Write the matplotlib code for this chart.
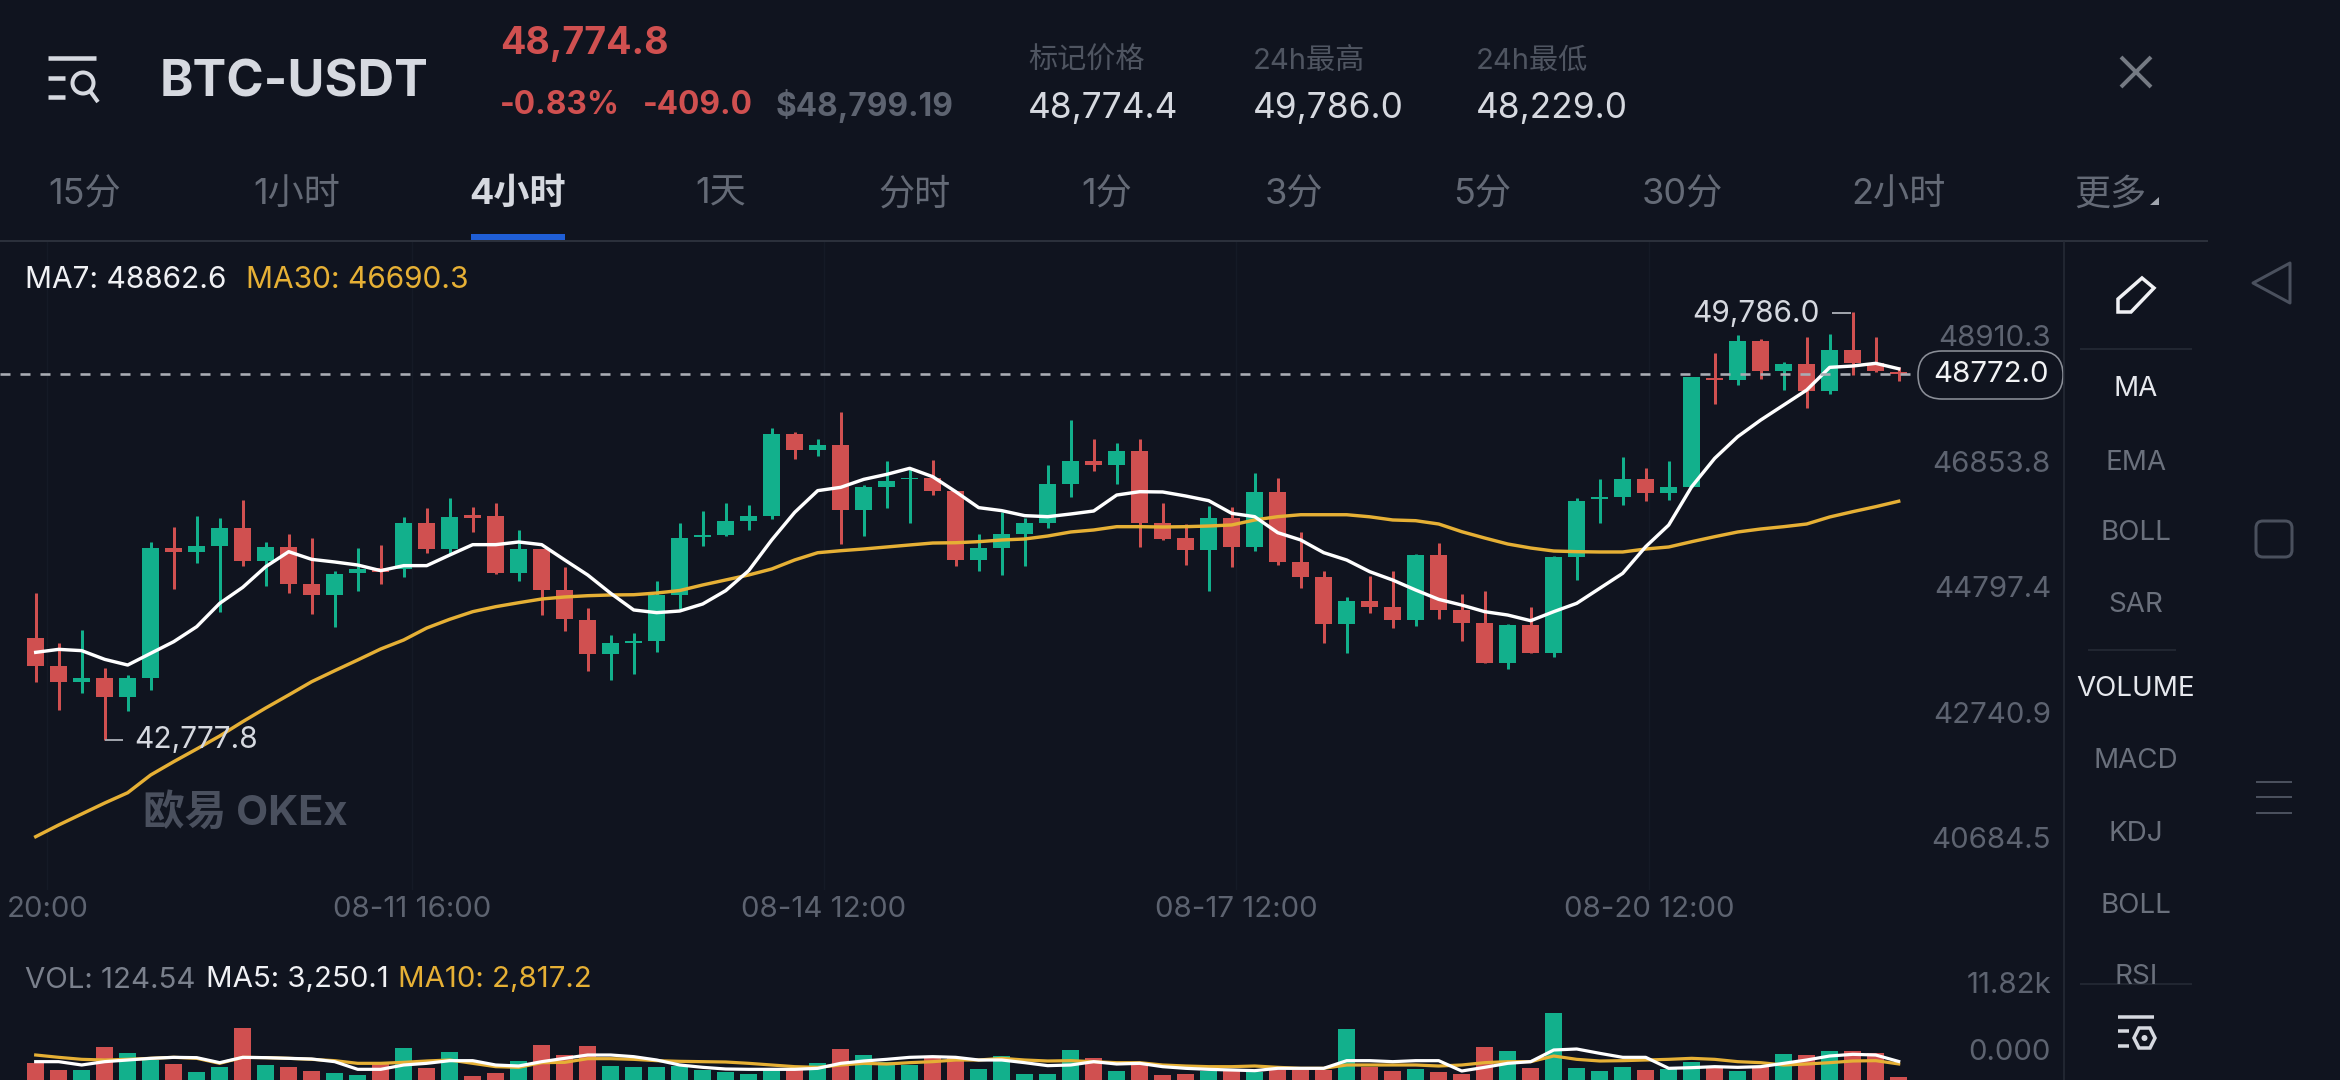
import matplotlib
matplotlib.use("Agg")
import matplotlib.pyplot as plt
from matplotlib.patches import FancyBboxPatch, Polygon, Circle, Rectangle
from matplotlib.transforms import ScaledTranslation
import numpy as np

# ---------- data ----------
open_ = [44442,43988,43726,43786,43485,43797,45918,45863,45961,46246,
         45710,45934,45333,45152,45508,45590,45573,46328,45907,46465,
         46448,45519,45907,45234,44742,44185,44360,44404,45152,46109,
         46131,46366,46448,47787,47530,47612,46546,46918,47049,47066,
         46858,45726,45923,46153,46328,46967,47350,47284,47514,46328,
         46082,45890,46410,45934,46842,45699,45442,44677,45054,44950,
         44742,45808,44906,44688,44032,44661,44196,45781,46721,46765,
         47055,46831,46918,48711,48678,49318,48832,48941,48503,49170,
         48952,48815]
high = [45191,44371,44578,43950,43840,46027,46273,46448,46421,46710,
        46016,46153,46082,45552,45918,45972,46437,46574,46738,46601,
        46656,46218,45907,45617,44934,44497,44535,45382,46328,46536,
        46667,46628,47886,47820,47705,48148,46956,47350,47230,47366,
        46858,46153,46519,46410,47284,48022,47705,47651,47705,46656,
        46317,46612,46590,47148,47077,46191,45551,45114,45464,45552,
        45819,46000,45169,45218,44671,44950,45792,46738,47055,47410,
        47230,47355,48722,49127,49416,49345,48979,49378,49433,49786,
        49389,48886]
low = [43726,43266,43540,42777.8,43250,43594,45245,45672,44879,45628,
       45300,45191,44835,44633,45218,45333,45453,45847,45808,46191,
       45497,45382,44824,44562,43906,43758,43857,44212,44917,45962,
       46120,46218,46399,47377,47432,45989,46120,46574,46328,46792,
       45634,45541,45480,45628,46257,46754,47192,46973,45934,46055,
       45644,45213,45617,45880,45644,45262,44360,44196,44863,44606,
       44644,44754,44398,44032,43933,44196,44141,45398,46328,46628,
       46700,46710,46918,48285,48596,48690,48514,48225,48449,48760,
       48815,48668]
close = [43988,43726,43786,43485,43786,45918,45863,45956,46246,45710,
         45934,45333,45152,45497,45573,45535,46328,45907,46426,46410,
         45508,45907,45234,44759,44185,44360,44398,45152,46082,46137,
         46366,46448,47787,47530,47612,46546,46929,47027,47066,46858,
         45726,45923,46153,46328,46967,47350,47284,47514,46328,46066,
         45890,46410,45934,46842,45699,45442,44677,45054,44950,44742,
         45808,44906,44688,44032,44661,44196,45781,46694,46754,47055,
         46831,46918,48722,48678,49318,48832,48941,48503,49170,48952,
         48832,48772]
ma7 = [44212,44261,44240,44097,44004,44196,44387,44633,45016,45278,
       45617,45863,45737,45694,45644,45552,45634,45634,45808,45978,
       45978,46022,45978,45727,45481,45180,44907,44863,44890,45005,
       45224,45552,46055,46508,46864,46918,47049,47131,47230,47093,
       46847,46585,46536,46454,46437,46481,46530,46792,46847,46842,
       46776,46700,46492,46437,46175,46055,45847,45726,45535,45398,
       45234,45081,44988,44879,44824,44731,44879,45016,45262,45508,
       45945,46300,46929,47394,47749,48022,48268,48514,48886,48908,
       48952,48862.6]
ma30 = [41189,41381,41561,41741,41910,42201,42419,42627,42840,43075,
        43299,43513,43731,43911,44087,44267,44415,44611,44754,44879,
        44961,45026,45087,45120,45141,45153,45157,45185,45226,45317,
        45399,45481,45579,45727,45846,45879,45907,45940,45973,46005,
        46010,46027,46055,46071,46120,46186,46219,46273,46273,46268,
        46273,46284,46301,46383,46437,46469,46469,46469,46435,46383,
        46371,46317,46191,46087,45989,45923,45874,45863,45858,45858,
        45907,45940,46027,46109,46186,46235,46273,46317,46432,46519,
        46601,46690.3]
volume = [2925,1755,1755,5733,4797,3510,2808,1404,2340,9068,
          2633,2340,1638,1170,878,2925,5616,2165,4914,702,
          1287,3335,6143,4388,5967,2457,2340,2340,2516,1755,
          1463,1053,2048,1755,2925,5499,4329,3218,2633,3803,
          4095,1931,4212,1053,1053,5265,3920,1638,2925,878,
          1053,1638,1638,1463,1755,1755,1755,8951,2223,1638,
          1931,1463,1053,5850,5090,2048,11820,2165,1638,2340,
          1755,1872,3218,2340,1638,2340,4563,4388,5090,5090,
          4680,585]
vol_ma5 = [3218,3218,2633,3218,3510,3803,3978,3920,3042,3978,
           3920,3803,3686,3218,1872,1872,2633,2925,3393,3393,
           2633,2457,3218,3803,4388,4388,4095,3510,2633,2223,
           1931,1872,1872,1872,2048,2925,3335,3627,3978,4095,
           3978,3510,3510,3042,2516,2633,3218,2808,2925,2340,
           2048,1872,1755,1638,2048,2048,2048,3393,3393,3218,
           3393,3393,1580,2223,2925,3218,5265,5441,4680,3978,
           3978,2048,2165,2340,2223,2340,2925,3510,4212,4505,
           4388,3250.1]
vol_ma10 = [4388,3978,3627,3510,3627,3803,3978,3803,2925,3978,
            3920,3803,3627,3393,2925,2925,3101,3335,3510,2925,
            2340,2223,3042,3101,3744,3744,3627,3393,3276,3218,
            3159,2925,2633,2340,2223,2633,2925,2808,3042,3218,
            3510,3510,3803,3510,3335,3393,3218,3042,3042,2633,
            2457,2340,2340,2457,2223,2048,2048,2633,2633,2633,
            2633,2457,2633,3042,3218,3218,4212,3627,3335,3393,
            3510,3627,3803,3627,3218,3042,2633,2808,3042,3335,
            3393,2817.2]
price_ticks = [48910.3, 46853.8, 44797.4, 42740.9, 40684.5]
price_tick_labels = ["48910.3", "46853.8", "44797.4", "42740.9", "40684.5"]
vol_ticks = [11820, 0]
vol_tick_labels = ["11.82k", "0.000"]
time_ticks = [0.5, 16.36, 34.27, 52.19, 70.14]
time_tick_labels = ["20:00", "08-11 16:00", "08-14 12:00", "08-17 12:00", "08-20 12:00"]
last_price = 48772.0
tabs = ["15分", "1小时", "4小时", "1天", "分时", "1分", "3分", "5分", "30分", "2小时", "更多"]
side_items = ["MA", "EMA", "BOLL", "SAR", "VOLUME", "MACD", "KDJ", "BOLL"]

# ---------- style ----------
BG = "#10141f"
RED = "#d05050"
GREEN = "#12b08c"
YEL = "#e6b035"
GRAY = "#5d6370"
LIGHT = "#d6d9e0"
LINE = "#272c37"
FONT = ["Inter", "Noto Sans CJK SC", "DejaVu Sans"]
plt.rcParams["font.family"] = FONT
PT = 0.72  # points per pixel at dpi 100
W, H = 2340, 1080
TICK_SIZE = 21.2

fig = plt.figure(figsize=(W / 100, H / 100), dpi=100, facecolor=BG)


def make_axes(top, bottom):
    ax = fig.add_axes([0, 1 - bottom / H, 2064 / W, (bottom - top) / H], facecolor=BG)
    for s in ax.spines.values():
        s.set_visible(False)
    ax.set_xlim(-35.7 / 23, (2064 - 35.7) / 23)
    return ax


x = np.arange(len(close))
open_a, high_a, low_a, close_a = map(np.array, (open_, high, low, close))
colors = [GREEN if c >= o else RED for o, c in zip(open_a, close_a)]

# ---------- price panel ----------
ax = make_axes(241, 890)
PX_PER = 16.4  # price per pixel
ax.set_ylim(last_price - (890 - 374.3) * PX_PER, last_price + (374.3 - 241) * PX_PER)
ax.vlines(x, low_a, high_a, colors=colors, lw=3 * PT, zorder=2)
ax.bar(x, np.abs(close_a - open_a), bottom=np.minimum(open_a, close_a), width=0.72,
       color=colors, zorder=3)
ax.plot(x, ma30, color=YEL, lw=3.4 * PT, zorder=4, solid_joinstyle="round")
ax.plot(x, ma7, color="#ffffff", lw=3.4 * PT, zorder=5, solid_joinstyle="round")
ax.plot([0, 1918 / 2064], [last_price, last_price], transform=ax.get_yaxis_transform(),
        color="#a9adb4", lw=2.6 * PT, dashes=(10 / 2.6, 10 / 2.6), zorder=6)
ax.set_xticks(time_ticks)
ax.set_xticklabels(time_tick_labels)
ax.tick_params(axis="x", length=0, pad=4.5, labelsize=TICK_SIZE, labelcolor=GRAY)
ax.grid(axis="x", color="#151a26", lw=1)
ax.set_axisbelow(True)

ax.yaxis.tick_right()
ax.set_yticks(price_ticks)
ax.set_yticklabels(price_tick_labels)
ax.tick_params(axis="y", length=0, pad=-13 * PT, labelsize=TICK_SIZE, labelcolor=GRAY)
up30 = ScaledTranslation(0, 30 / 100, fig.dpi_scale_trans)
for lab in ax.get_yticklabels():
    lab.set_ha("right")
    lab.set_transform(lab.get_transform() + up30)

# ---------- volume panel ----------
vx = make_axes(950, 1080)
vx.set_ylim(0, 130 * 175.5)
vx.bar(x, volume, width=0.72, color=colors, zorder=2)
vx.plot(x, vol_ma10, color=YEL, lw=3.2 * PT, zorder=3)
vx.plot(x, vol_ma5, color="#ffffff", lw=3.2 * PT, zorder=4)
vx.set_xticks([])
vx.yaxis.tick_right()
vx.set_yticks(vol_ticks)
vx.set_yticklabels(vol_tick_labels)
vx.tick_params(axis="y", length=0, pad=-13 * PT, labelsize=TICK_SIZE, labelcolor=GRAY)
for lab in vx.get_yticklabels():
    lab.set_ha("right")
    lab.set_transform(lab.get_transform() + up30)

# ---------- overlay in pixel coordinates for the app chrome ----------
ui = fig.add_axes([0, 0, 1, 1], facecolor="none", zorder=10)
ui.set_xlim(0, W)
ui.set_ylim(H, 0)
ui.axis("off")


def T(px, py, s, size, color, ha="left", weight="normal", **kw):
    return ui.text(px, py + 3, s, fontsize=size, color=color, ha=ha, va="center",
                   fontweight=weight, family=FONT, **kw)


def L(xs, ys, color, lw=1.0, **kw):
    ui.plot(xs, ys, color=color, lw=lw * PT, solid_capstyle="butt", **kw)


# separators
L([0, 2208], [240.5, 240.5], "#2b303b", 2)
L([2064, 2064], [241, 1080], LINE, 1.5)
L([2080, 2192], [348.7, 348.7], LINE, 1.5)
L([2088, 2176], [650, 650], LINE, 1.5)
L([2080, 2192], [983.5, 983.5], LINE, 1.5)

# header
for yy, x0 in ((57.5, 48), (78, 48), (97, 48)):
    L([x0, 96 if yy < 60 else 65], [yy, yy], LIGHT, 4.5)
ui.add_patch(Circle((83, 83), 10.5, fill=False, ec=LIGHT, lw=4 * PT))
L([90, 98], [91, 102], LIGHT, 4)
T(160, 80, "BTC-USDT", 36.4, LIGHT, weight="bold")
T(500, 41, "48,774.8", 27, RED, weight="bold")
T(500, 103, "-0.83%", 22.8, RED, weight="bold")
T(643, 103, "-409.0", 22.8, RED, weight="bold")
T(776, 103, "$48,799.19", 22.8, GRAY, weight="bold")
for px, lab_, val in ((1028, "标记价格", "48,774.4"), (1253, "24h最高", "49,786.0"), (1476, "24h最低", "48,229.0")):
    T(px, 58, lab_, 21, "#4f5561")
    T(px, 105, val, 25.4, LIGHT)
L([2121, 2151], [57, 87], "#757a83", 4)
L([2121, 2151], [87, 57], "#757a83", 4)

# tabs
tab_x = [85, 297, 518, 721, 915, 1107, 1294, 1482, 1682, 1898, 2110]
for i, (px, s) in enumerate(zip(tab_x, tabs)):
    T(px, 191.5, s, 26, LIGHT if i == 2 else "#646a76", ha="center", weight="bold" if i == 2 else "normal")
ui.add_patch(Polygon([[2150, 205], [2159, 205], [2159, 197]], closed=True, fc="#a0a5ae", ec="none"))
ui.add_patch(Rectangle((471, 234), 94, 6.5, fc="#1f5ed6", ec="none"))

# legends
T(25, 277.5, "MA7: 48862.6", 21.5, "#f0f1f4")
T(246, 277.5, "MA30: 46690.3", 21.5, YEL)
T(25, 977, "VOL: 124.54", 21.2, "#7a808c")
T(206, 977, "MA5: 3,250.1", 21.2, "#f0f1f4")
T(398, 977, "MA10: 2,817.2", 21.2, YEL)

# high / low annotations
T(134, 737, "42,777.8", 21.5, LIGHT)
L([104.7, 123], [739.5, 739.5], "#9ea2aa", 2)
T(1820, 311, "49,786.0", 21.5, LIGHT, ha="right")
L([1832, 1851], [313, 313], "#9ea2aa", 2)

# watermark
T(143, 810, "欧易 OKEx", 30, "#4a505e", weight="bold")

# last price pill
ui.add_patch(FancyBboxPatch((1918, 351), 145, 48, boxstyle="round,pad=0,rounding_size=24",
                            fc=BG, ec="#8b8f98", lw=1.6 * PT))
T(1991, 372, "48772.0", 21.2, "#f2f3f5", ha="center")

# side panel
side_y = [386.5, 459.5, 530.5, 602.5, 686.5, 758.5, 831, 903]
for s, yy in zip(side_items, side_y):
    T(2136, yy, s, 20, "#e6e8ed" if s in ("MA", "VOLUME") else "#6a707c", ha="center")
rsi = T(2136, 974, "RSI", 20, "#6a707c", ha="center", clip_on=True)
rsi.set_clip_path(Rectangle((2064, 950), 200, 33.5, transform=ui.transData))
ui.add_patch(Polygon([[2118, 312], [2118, 299], [2142, 278], [2154, 288], [2131, 312]],
                     closed=True, fill=False, ec="#f0f1f4", lw=3.5 * PT))
L([2118, 2154], [1016.5, 1016.5], LIGHT, 3.5)
L([2118, 2129], [1031, 1031], LIGHT, 3.5)
L([2118, 2129], [1046, 1046], LIGHT, 3.5)
ui.add_patch(Polygon([[2134, 1038], [2139, 1028], [2150, 1028], [2155, 1038], [2150, 1048], [2139, 1048]],
                     closed=True, fill=False, ec=LIGHT, lw=3.5 * PT))
ui.add_patch(Circle((2144.5, 1038), 3, fc=LIGHT, ec="none"))

# phone navigation bar
NAV = "#4a505d"
ui.add_patch(Polygon([[2253, 283], [2290, 263], [2290, 303]], closed=True, fill=False, ec=NAV, lw=3 * PT, joinstyle="round"))
ui.add_patch(FancyBboxPatch((2262, 527), 24, 24, boxstyle="round,pad=6,rounding_size=7", fill=False, ec=NAV, lw=3 * PT))
for yy in (782, 797, 813):
    L([2256, 2292], [yy, yy], NAV, 2)

fig.savefig("out.png", dpi=100, facecolor=BG)
